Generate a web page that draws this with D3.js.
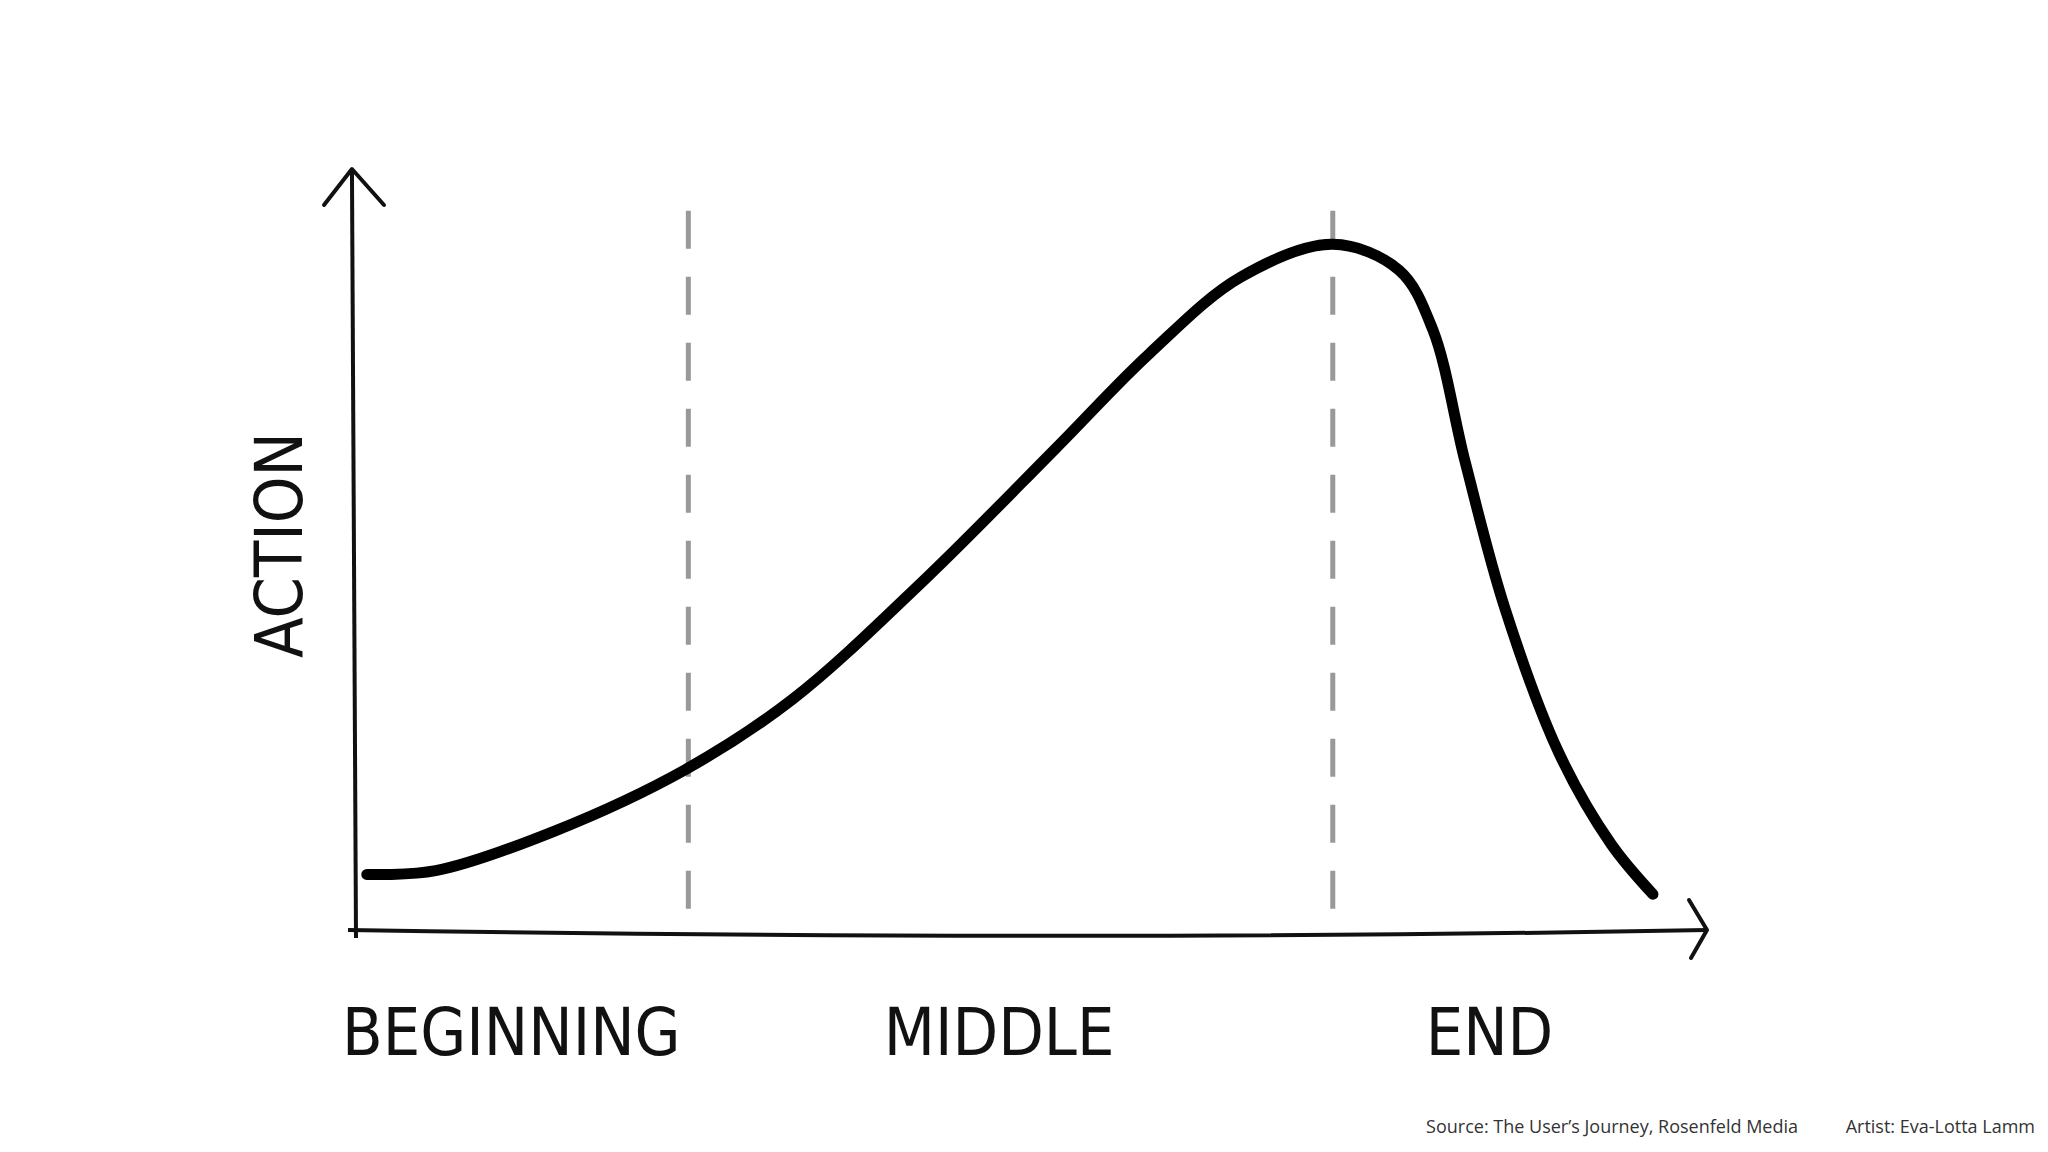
<!DOCTYPE html>
<html><head><meta charset="utf-8">
<script src="https://cdn.jsdelivr.net/npm/d3@7"></script>
<style>body{margin:0;background:#fff}</style></head>
<body><svg id="c" width="2048" height="1152"></svg>
<script>
const curveX = [0.8,5.9,14.7,24.4,32.3,42.0,51.8,58.7,65.5,72.3,77.2,79.7,82.1,85.0,89.0,92.9,96.0];
const curveY = [7.3,7.8,13.0,21.1,30.3,45.9,63.3,75.7,85.8,90.1,86.7,78.9,61.5,42.5,23.4,11.3,4.7];
const dividers = [24.6, 72.3];
const phaseLabels = ["BEGINNING","MIDDLE","END"];
const phasePos = [11.5, 47.6, 83.9];
const yLabel = "ACTION";
const sourceText = "Source: The User’s Journey, Rosenfeld Media";
const artistText = "Artist: Eva-Lotta Lamm";

const svg = d3.select("#c");
const x = d3.scaleLinear().domain([0,100]).range([356,1707]);
const y = d3.scaleLinear().domain([0,100]).range([930,169]);
const font = "'DejaVu Sans Condensed','DejaVu Sans',sans-serif";

// axes
svg.append("path").attr("d",`M${x(0)},${y(0)+8} L${x(-0.3)},${y(100)}`).attr("stroke","#111").attr("stroke-width",4).attr("fill","none");
svg.append("path").attr("d",`M${x(0)-32},${y(100)+36} L${x(-0.3)},${y(100)} L${x(0)+28},${y(100)+36}`).attr("stroke","#111").attr("stroke-width",4).attr("fill","none").attr("stroke-linejoin","round").attr("stroke-linecap","round");
svg.append("path").attr("d",`M${x(0)-8},${y(0)} Q${x(55)},${y(-1.5)} ${x(100)},${y(0)}`).attr("stroke","#111").attr("stroke-width",4).attr("fill","none");
svg.append("path").attr("d",`M${x(100)-18},${y(0)-30} L${x(100)},${y(0)} L${x(100)-16},${y(0)+28}`).attr("stroke","#111").attr("stroke-width",4).attr("fill","none").attr("stroke-linejoin","round").attr("stroke-linecap","round");

// dividers
dividers.forEach(d=>{
  svg.append("line").attr("x1",x(d)).attr("x2",x(d)).attr("y1",y(94.5)).attr("y2",y(2.6))
    .attr("stroke","#999").attr("stroke-width",5).attr("stroke-dasharray","38,28");
});

// curve
const pts = curveX.map((v,i)=>[x(v),y(curveY[i])]);
svg.append("path").attr("d",d3.line().curve(d3.curveCatmullRom)(pts))
  .attr("fill","none").attr("stroke","#000").attr("stroke-width",11).attr("stroke-linecap","round");

// labels
svg.selectAll(".ph").data(phaseLabels).join("text")
  .attr("x",(d,i)=>x(phasePos[i])).attr("y",1055).attr("text-anchor","middle")
  .attr("font-family",font).attr("font-size",66).attr("fill","#111").text(d=>d);
svg.append("text").attr("transform",`translate(302,545) rotate(-90)`).attr("text-anchor","middle")
  .attr("font-family",font).attr("font-size",66).attr("fill","#111").text(yLabel);

svg.append("text").attr("x",1798).attr("y",1133).attr("text-anchor","end")
  .attr("font-family","'Open Sans',sans-serif").attr("font-size",18).attr("fill","#333").text(sourceText);
svg.append("text").attr("x",2035).attr("y",1133).attr("text-anchor","end")
  .attr("font-family","'Open Sans',sans-serif").attr("font-size",18).attr("fill","#333").text(artistText);
</script></body></html>
